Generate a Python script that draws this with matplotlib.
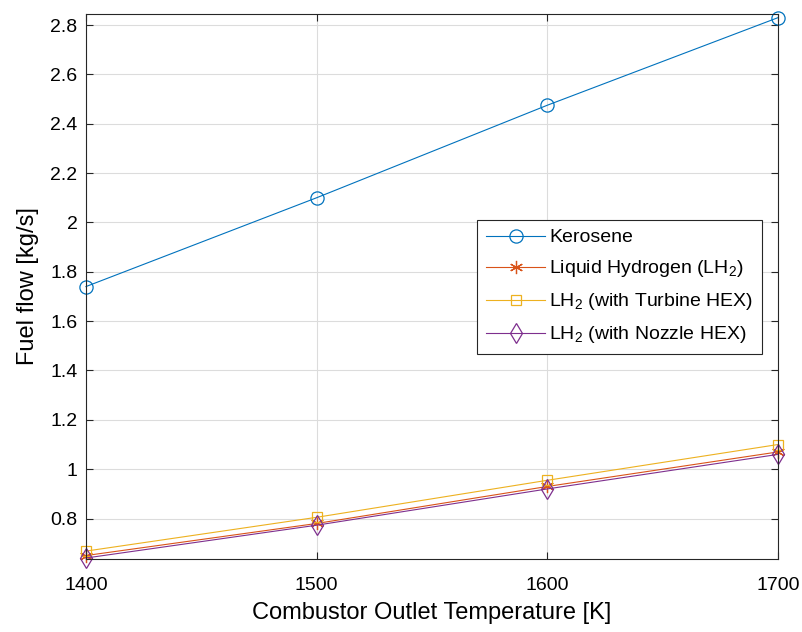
import numpy as np
import matplotlib.pyplot as plt
from matplotlib.ticker import FuncFormatter

plt.rcParams['font.family'] = ['Liberation Sans', 'DejaVu Sans']
plt.rcParams['mathtext.default'] = 'regular'

# Temperaturas de salida del combustor
temperatura = [1400, 1500, 1600, 1700]

# Flujo de combustible [kg/s]
kerosene = [1.74, 2.10, 2.475, 2.83]
lh2 = [0.650, 0.780, 0.930, 1.070]
lh2_turbina = [0.668, 0.805, 0.955, 1.100]
lh2_tobera = [0.640, 0.773, 0.920, 1.060]

etiquetas = ['Kerosene', 'Liquid Hydrogen (LH$_2$)',
             'LH$_2$ (with Turbine HEX)', 'LH$_2$ (with Nozzle HEX)']
colores = ['#0072BD', '#D95319', '#EDB120', '#7E2F8E']

fig = plt.figure(figsize=(8.03, 6.32), dpi=100)
ax = fig.add_axes([0.107, 0.1155, 0.862, 0.8625])

ax.plot(temperatura, kerosene, color=colores[0], lw=0.8, marker='o',
        ms=9.5, mfc='none', mew=0.9, label=etiquetas[0], clip_on=False)
ax.plot(temperatura, lh2, color=colores[1], lw=0.8, marker=(6, 2, 0),
        ms=9.5, mew=0.9, label=etiquetas[1], clip_on=False)
ax.plot(temperatura, lh2_turbina, color=colores[2], lw=0.8, marker='s',
        ms=7, mfc='none', mew=0.9, label=etiquetas[2], clip_on=False)
ax.plot(temperatura, lh2_tobera, color=colores[3], lw=0.8, marker='d',
        ms=10, mfc='none', mew=0.9, label=etiquetas[3], clip_on=False)

ax.set_xlim(1400, 1700)
ax.set_ylim(0.636, 2.845)
ax.set_xticks([1400, 1500, 1600, 1700])
ax.set_yticks(np.arange(0.8, 2.81, 0.2))
ax.yaxis.set_major_formatter(FuncFormatter(lambda v, p: f'{v:g}'))

ax.grid(True, color='#dcdcdc', lw=0.8)
ax.set_axisbelow(True)
ax.tick_params(direction='in', top=True, right=True, labelsize=14,
               color='#262626', length=5)
ax.tick_params(axis='x', pad=13)
ax.tick_params(axis='y', pad=6)
for s in ax.spines.values():
    s.set_color('#262626')
    s.set_linewidth(0.8)

ax.set_xlabel('Combustor Outlet Temperature [K]', fontsize=17, labelpad=6)
ax.set_ylabel('Fuel flow [kg/s]', fontsize=17, labelpad=8)

leg = ax.legend(loc='upper right', bbox_to_anchor=(0.977, 0.622),
                fontsize=14, handlelength=3.05, fancybox=False,
                edgecolor='#262626', framealpha=1, borderaxespad=0,
                labelspacing=0.62, handletextpad=0.2, borderpad=0.45)
leg.get_frame().set_linewidth(0.8)

fig.savefig('out.png', dpi=100)
